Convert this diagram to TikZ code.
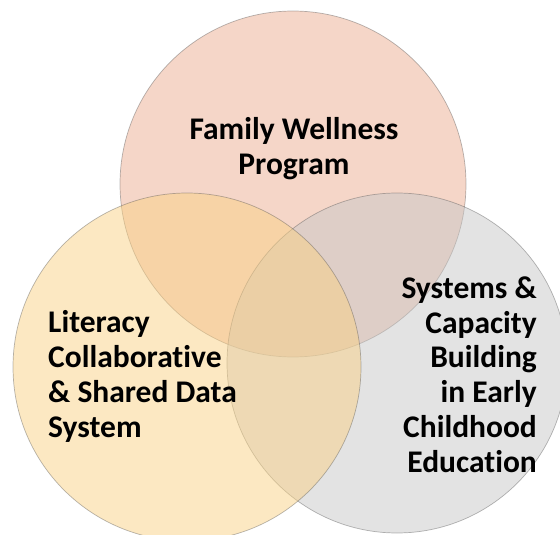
\documentclass[tikz,border=0pt]{standalone}
\usepackage{fontspec}
\setmainfont[Ligatures=NoCommon]{Carlito}
\usepackage{tikz}
\usetikzlibrary{positioning}
\tikzset{>=latex}
\definecolor{wellness}{RGB}{235,173,145}
\definecolor{literacy}{RGB}{249,209,133}
\definecolor{systems}{RGB}{199,199,199}
\tikzset{venn/.style={fill opacity=0.5,draw=black!70,draw opacity=0.4,line width=0.7pt},
  venntext/.style={inner sep=0pt,font=\fontsize{31.5}{34.7}\selectfont\bfseries}}

\begin{document}
\begin{tikzpicture}[x=1pt,y=-1pt]
    \useasboundingbox (0,0) rectangle (560,535);
    \clip (0,0) rectangle (560,535);
    \filldraw [venn,fill=wellness] (293,184) circle (173pt);
    \filldraw [venn,fill=systems] (397,363) circle (170pt);
    \filldraw [venn,fill=literacy] (187,367) circle (174pt);
    \node [venntext,align=center,anchor=base] (family) at (294,174) {Family Wellness\\Program};
    \node [venntext,align=left,anchor=base west] (literacy) at (48,437) {Literacy\\Collaborative\\\& Shared Data\\System};
    \node [venntext,align=right,anchor=base east] (systems) at (537,472) {Systems \&\\Capacity\\Building\\in Early\\Childhood\\Education};
  \end{tikzpicture}
\end{document}
